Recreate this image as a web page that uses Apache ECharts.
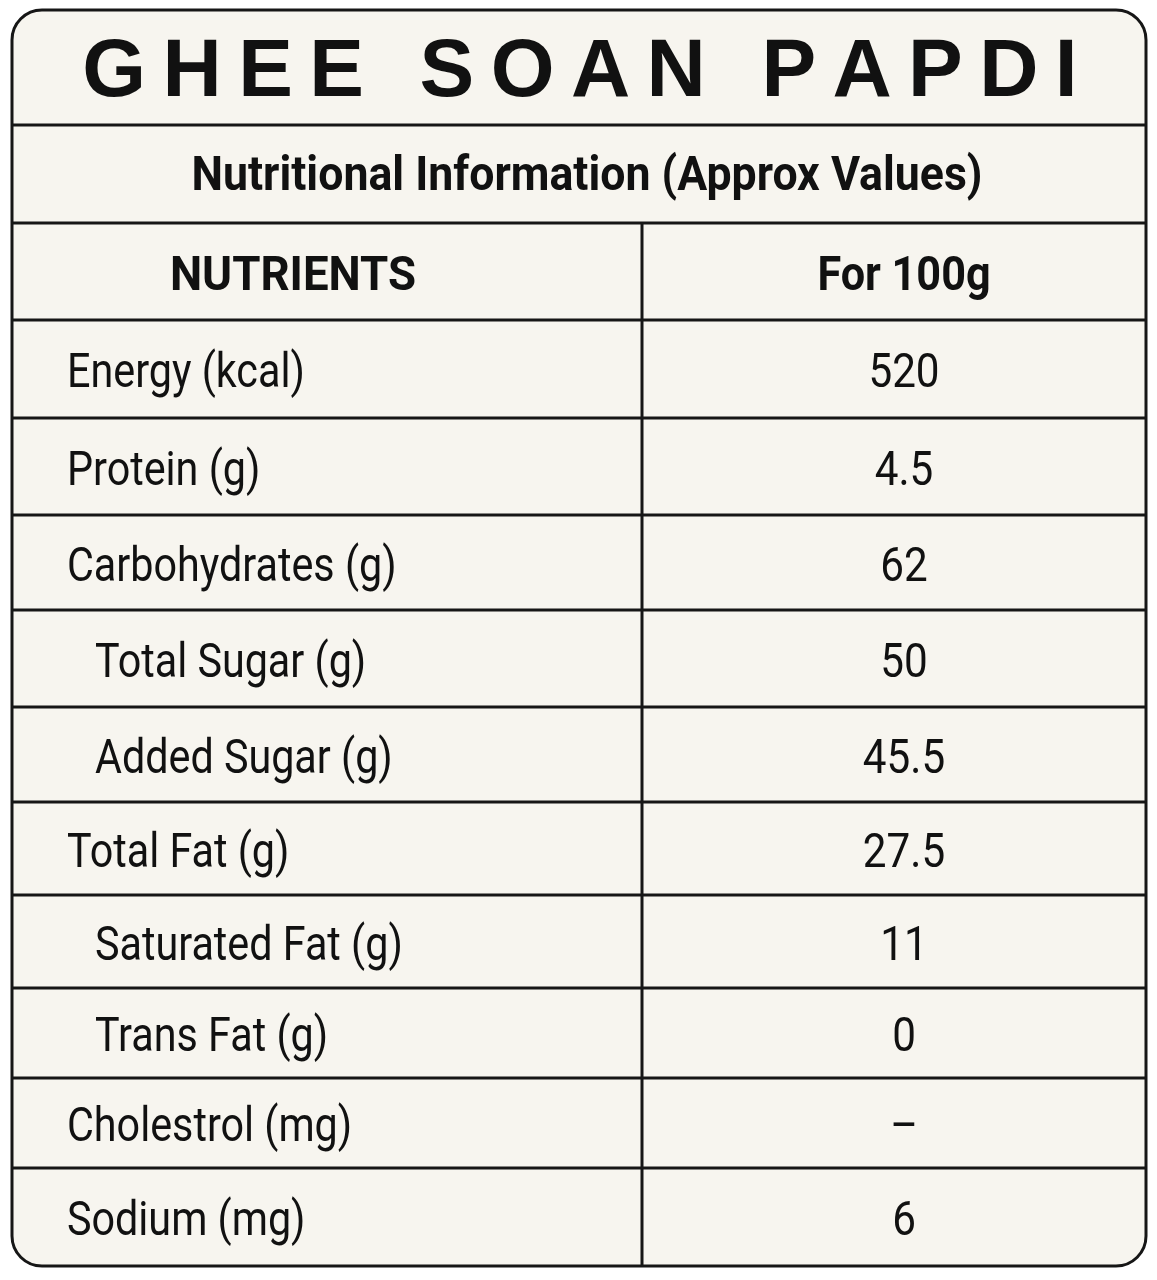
<!DOCTYPE html>
<html><head><meta charset="utf-8">
<script src="https://cdn.jsdelivr.net/npm/echarts@6/dist/echarts.min.js"></script>
<style>html,body{margin:0;padding:0;background:#fff}#c{width:1157px;height:1280px}</style>
</head><body><div id="c"></div>
<script>
const title = "GHEE SOAN PAPDI";
const subtitle = "Nutritional Information (Approx Values)";
const headers = ["NUTRIENTS", "For 100g"];
const nutrients = ["Energy (kcal)", "Protein (g)", "Carbohydrates (g)", "Total Sugar (g)", "Added Sugar (g)", "Total Fat (g)", "Saturated Fat (g)", "Trans Fat (g)", "Cholestrol (mg)", "Sodium (mg)"];
const indented = [false, false, false, true, true, false, true, true, false, false];
const values = ["520", "4.5", "62", "50", "45.5", "27.5", "11", "0", "–", "6"];

const L = 12, R = 1146, T = 10, B = 1266, COL = 642;
const lines = [125, 223, 320, 418, 515, 610, 707, 802, 895, 988, 1078, 1168, 1266];
const FONT = '"Roboto", sans-serif';
const stroke = '#161616';
const g = [];
g.push({type:'rect', shape:{x:L,y:T,width:R-L,height:B-T,r:30}, style:{fill:'#f7f5ef', stroke:stroke, lineWidth:3}});
for (let i = 0; i < lines.length - 1; i++) {
  g.push({type:'line', shape:{x1:L,y1:lines[i],x2:R,y2:lines[i]}, style:{stroke:stroke, lineWidth:3}});
}
g.push({type:'line', shape:{x1:COL,y1:lines[1],x2:COL,y2:B}, style:{stroke:stroke, lineWidth:3}});
g.push({type:'text', x:580, y:(T+lines[0])/2+6, style:{text:title.split('').join('\u2009'), font:'900 82px "Liberation Sans", Arial, sans-serif', fill:'#111', align:'center', verticalAlign:'middle'}});
function txt(x, y, s, font, align, sx) {
  g.push({type:'text', x:x, y:y, scaleX:sx, style:{text:s, font:font, fill:'#111', align:align, verticalAlign:'middle'}});
}
txt(587, (lines[0]+lines[1])/2+4, subtitle, 'bold 48px '+FONT, 'center', 0.93);
txt(293, (lines[1]+lines[2])/2+6, headers[0], 'bold 48px '+FONT, 'center', 0.95);
txt(904, (lines[1]+lines[2])/2+6, headers[1], 'bold 48px '+FONT, 'center', 0.9);
nutrients.forEach((n, i) => {
  const yc = (lines[i+2] + lines[i+3]) / 2 + 6;
  txt(indented[i] ? 95 : 67, yc, n, '48px '+FONT, 'left', 0.86);
  txt(904, yc, values[i], '48px '+FONT, 'center', 0.88);
});
const chart = echarts.init(document.getElementById('c'));
chart.setOption({backgroundColor:'#ffffff', animation:false, graphic:g});
</script></body></html>
